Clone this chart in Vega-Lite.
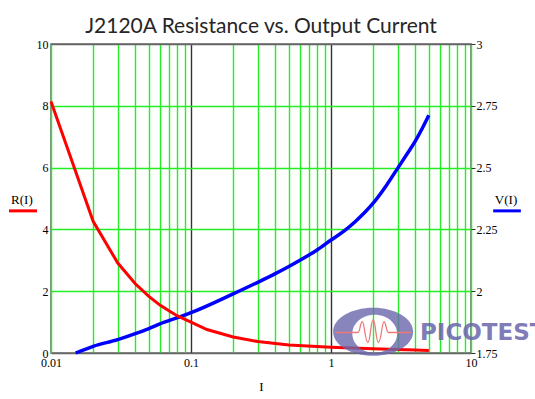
{
  "$schema": "https://vega.github.io/schema/vega-lite/v6.json",
  "width": 420,
  "height": 309,
  "autosize": {"type": "none"},
  "padding": {"left": 51, "top": 44, "right": 64, "bottom": 46},
  "background": "white",
  "title": {
    "text": "J2120A Resistance vs. Output Current",
    "font": "Lato",
    "fontSize": 21,
    "fontWeight": "normal",
    "color": "#262626",
    "anchor": "middle",
    "frame": "group",
    "baseline": "alphabetic",
    "offset": 14,
    "dy": 30
  },
  "config": {
    "view": {"stroke": "#666666", "strokeWidth": 1.5},
    "axis": {
      "labelFont": "Liberation Serif",
      "labelFontSize": 12,
      "labelColor": "#000000",
      "titleFont": "Liberation Serif",
      "titleFontWeight": "normal",
      "titleColor": "#000000"
    }
  },
  "datasets": {
    "R": [
      {"I": 0.01, "R": 8.14},
      {"I": 0.02, "R": 4.26},
      {"I": 0.03, "R": 2.91},
      {"I": 0.04, "R": 2.24},
      {"I": 0.05, "R": 1.83},
      {"I": 0.06, "R": 1.55},
      {"I": 0.07, "R": 1.36},
      {"I": 0.08, "R": 1.2},
      {"I": 0.1, "R": 1.0},
      {"I": 0.13, "R": 0.76},
      {"I": 0.2, "R": 0.52},
      {"I": 0.3, "R": 0.37},
      {"I": 0.5, "R": 0.26},
      {"I": 1, "R": 0.19},
      {"I": 2, "R": 0.14},
      {"I": 3, "R": 0.11},
      {"I": 4, "R": 0.095},
      {"I": 5, "R": 0.08}
    ],
    "V": [
      {"I": 0.015, "V": 1.75},
      {"I": 0.02, "V": 1.777},
      {"I": 0.03, "V": 1.804},
      {"I": 0.04, "V": 1.828},
      {"I": 0.05, "V": 1.849},
      {"I": 0.06, "V": 1.868},
      {"I": 0.08, "V": 1.893},
      {"I": 0.1, "V": 1.913},
      {"I": 0.2, "V": 1.989},
      {"I": 0.3, "V": 2.036},
      {"I": 0.4, "V": 2.071},
      {"I": 0.5, "V": 2.1},
      {"I": 0.6, "V": 2.125},
      {"I": 0.8, "V": 2.168},
      {"I": 1, "V": 2.207},
      {"I": 1.25, "V": 2.245},
      {"I": 1.5, "V": 2.283},
      {"I": 2, "V": 2.356},
      {"I": 2.5, "V": 2.43},
      {"I": 3, "V": 2.498},
      {"I": 3.5, "V": 2.556},
      {"I": 4, "V": 2.607},
      {"I": 4.5, "V": 2.66},
      {"I": 5, "V": 2.712}
    ]
  },
  "layer": [
    {
      "data": {"name": "V"},
      "mark": {"type": "line", "color": "#0000ff", "strokeWidth": 3.5, "interpolate": "monotone"},
      "encoding": {
        "x": {
          "field": "I",
          "type": "quantitative",
          "scale": {"type": "log", "domain": [0.01, 10]},
          "axis": {
            "values": [0.01, 0.02, 0.03, 0.04, 0.05, 0.06, 0.07, 0.08, 0.09, 0.1, 0.2, 0.3, 0.4, 0.5, 0.6, 0.7, 0.8, 0.9, 1, 2, 3, 4, 5, 6, 7, 8, 9, 10],
            "format": "~g",
            "labelExpr": "(datum.value == 0.01 || datum.value == 0.1 || datum.value == 1 || datum.value == 10) ? datum.label : ''",
            "labelOverlap": false,
            "labelFlush": false,
            "labelPadding": 4,
            "grid": true,
            "gridColor": {"condition": {"test": "datum.value == 0.1 || datum.value == 1", "value": "#333333"}, "value": "#22ee22"},
            "gridWidth": 1.4,
            "ticks": false,
            "domain": false,
            "title": "I",
            "titleFontSize": 13,
            "titlePadding": 12
          }
        },
        "y": {
          "field": "V",
          "type": "quantitative",
          "scale": {"domain": [1.75, 3]},
          "axis": {
            "orient": "right",
            "values": [1.75, 2, 2.25, 2.5, 2.75, 3],
            "format": ".3~g",
            "grid": false,
            "domain": false,
            "ticks": true,
            "tickSize": 4,
            "tickColor": "#333333",
            "labelPadding": 1,
            "title": null
          }
        }
      }
    },
    {
      "layer": [
        {
          "data": {"name": "R"},
          "mark": {"type": "line", "color": "#ff0000", "strokeWidth": 3},
          "encoding": {
            "x": {"field": "I", "type": "quantitative", "scale": {"type": "log", "domain": [0.01, 10]}},
            "y": {
              "field": "R",
              "type": "quantitative",
              "scale": {"domain": [0, 10]},
              "axis": {
                "orient": "left",
                "values": [0, 2, 4, 6, 8, 10],
                "grid": true,
                "gridColor": {"condition": {"test": "datum.value == 0 || datum.value == 10", "value": "#666666"}, "value": "#22ee22"},
                "gridWidth": 1.4,
                "domain": false,
                "ticks": false,
                "labelPadding": 3,
                "title": null
              }
            }
          }
        },
        {
          "data": {"values": [{}]},
          "mark": {"type": "text", "text": "R(I)", "font": "Liberation Serif", "fontSize": 13, "color": "#000000", "align": "center", "baseline": "middle"},
          "encoding": {
            "x": {"datum": 0.0062, "type": "quantitative"},
            "y": {"datum": 4.96, "type": "quantitative"}
          }
        },
        {
          "data": {"values": [{}]},
          "mark": {"type": "rule", "color": "#ff0000", "strokeWidth": 3},
          "encoding": {
            "x": {"datum": 0.00501, "type": "quantitative"},
            "x2": {"datum": 0.00794},
            "y": {"datum": 4.6, "type": "quantitative"}
          }
        },
        {
          "data": {"values": [{}]},
          "mark": {"type": "text", "text": "V(I)", "font": "Liberation Serif", "fontSize": 13, "color": "#000000", "align": "center", "baseline": "middle"},
          "encoding": {
            "x": {"datum": 17.8, "type": "quantitative"},
            "y": {"datum": 4.96, "type": "quantitative"}
          }
        },
        {
          "data": {"values": [{}]},
          "mark": {"type": "rule", "color": "#0000ff", "strokeWidth": 3},
          "encoding": {
            "x": {"datum": 14.4, "type": "quantitative"},
            "x2": {"datum": 22.7},
            "y": {"datum": 4.6, "type": "quantitative"}
          }
        },
        {
          "data": {"values": [{}]},
          "mark": {
            "type": "point",
            "shape": "M -1 0 A 1 0.6 0 1 1 1 0 A 1 0.6 0 1 1 -1 0 Z M -0.52 0.05 A 0.56 0.475 0 1 0 0.6 0.05 A 0.56 0.475 0 1 0 -0.52 0.05 Z",
            "filled": true,
            "color": "#6a66ac",
            "opacity": 0.8,
            "size": 6400,
            "strokeWidth": 0
          },
          "encoding": {
            "x": {"datum": 2.0, "type": "quantitative"},
            "y": {"datum": 0.69, "type": "quantitative"}
          }
        },
        {
          "data": {"values": [{}]},
          "mark": {
            "type": "point",
            "shape": "M -0.95 0.02 L -0.38 0.02 C -0.33 0.02 -0.32 -0.25 -0.27 -0.25 C -0.22 -0.25 -0.2 0.27 -0.13 0.27 C -0.07 0.27 -0.06 -0.3 0 -0.3 C 0.06 -0.3 0.07 0.27 0.13 0.27 C 0.2 0.27 0.22 -0.25 0.27 -0.25 C 0.32 -0.25 0.33 0.02 0.38 0.02 L 0.95 0.02",
            "filled": false,
            "color": "#f07878",
            "strokeWidth": 1.3,
            "opacity": 1,
            "size": 6400
          },
          "encoding": {
            "x": {"datum": 2.0, "type": "quantitative"},
            "y": {"datum": 0.69, "type": "quantitative"}
          }
        },
        {
          "data": {"values": [{}]},
          "mark": {"type": "text", "text": "PICOTEST", "font": "DejaVu Sans", "fontWeight": "bold", "fontSize": 23, "color": "#6a66ac", "opacity": 0.85, "align": "left", "baseline": "middle"},
          "encoding": {
            "x": {"datum": 4.32, "type": "quantitative"},
            "y": {"datum": 0.66, "type": "quantitative"}
          }
        }
      ]
    }
  ],
  "resolve": {"scale": {"y": "independent"}}
}
